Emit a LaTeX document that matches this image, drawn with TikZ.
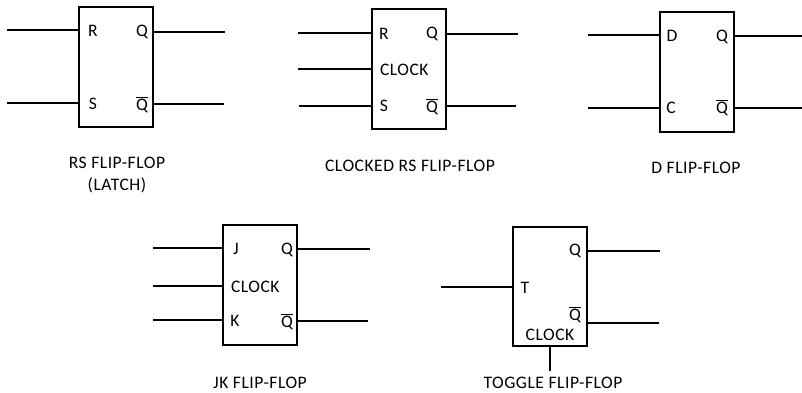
\documentclass[tikz,border=0pt]{standalone}
\usepackage{fontspec}
\setmainfont[LetterSpace=3]{Carlito}
\newcommand{\notq}{$\overline{\mbox{Q}}$}
\begin{document}
\begin{tikzpicture}[x=0.25mm, y=-0.25mm, line width=0.5mm, font=\fontsize{12.5}{15}\selectfont,
		ff/.style={draw, inner sep=0pt, minimum width=18.5mm, minimum height=29.8mm},
		pin/.style={inner sep=0pt},
		title/.style={inner sep=0pt, align=center, font=\fontsize{12.5}{15}\selectfont}]
	\useasboundingbox (0,0) rectangle (802,392);
	% latch
	\node[ff] (rs) at (116,67) {};
	\node[pin] (rsR) at (93,31) {R};
	\node[pin] (rsS) at (93,104) {S};
	\node[pin] (rsQ) at (142,32) {Q};
	\node[pin] (rsNQ) at (142,105) {\notq};
	\coordinate (rsRin) at (7,30);
	\coordinate (rsSin) at (7,103);
	\coordinate (rsQout) at (225,32);
	\coordinate (rsNQout) at (224,104);
	\draw (rsRin) -- (rsRin -| rs.west);
	\draw (rsSin) -- (rsSin -| rs.west);
	\draw (rs.east |- rsQout) -- (rsQout);
	\draw (rs.east |- rsNQout) -- (rsNQout);
	\node[title] (rstitle) at (117,175) {RS FLIP-FLOP\\(LATCH)};
	% clocked
	\node[ff] (crs) at (408.5,69) {};
	\node[pin] (crsR) at (384,34) {R};
	\node[pin, anchor=west] (crsC) at (379,70) {CLOCK};
	\node[pin] (crsS) at (384,106) {S};
	\node[pin] (crsQ) at (432,34) {Q};
	\node[pin] (crsNQ) at (432,107) {\notq};
	\coordinate (crsRin) at (298,33);
	\coordinate (crsCin) at (298,69);
	\coordinate (crsSin) at (299,106);
	\coordinate (crsQout) at (518,34);
	\coordinate (crsNQout) at (516,106);
	\draw (crsRin) -- (crsRin -| crs.west);
	\draw (crsCin) -- (crsCin -| crs.west);
	\draw (crsSin) -- (crsSin -| crs.west);
	\draw (crs.east |- crsQout) -- (crsQout);
	\draw (crs.east |- crsNQout) -- (crsNQout);
	\node[title] (crstitle) at (410,166) {CLOCKED RS FLIP-FLOP};
	% d
	\node[ff] (d) at (697,72) {};
	\node[pin] (dD) at (672,36) {D};
	\node[pin] (dC) at (671,108) {C};
	\node[pin] (dQ) at (722,37) {Q};
	\node[pin] (dNQ) at (722,108) {\notq};
	\coordinate (dDin) at (588,35);
	\coordinate (dCin) at (588,108);
	\coordinate (dQout) at (802,36);
	\coordinate (dNQout) at (802,108);
	\draw (dDin) -- (dDin -| d.west);
	\draw (dCin) -- (dCin -| d.west);
	\draw (d.east |- dQout) -- (dQout);
	\draw (d.east |- dNQout) -- (dNQout);
	\node[title] (dtitle) at (696,168) {D FLIP-FLOP};
	% jk
	\node[ff] (jk) at (260,285) {};
	\node[pin] (jkJ) at (236,249) {J};
	\node[pin, anchor=west] (jkC) at (230,287) {CLOCK};
	\node[pin] (jkK) at (235,321) {K};
	\node[pin] (jkQ) at (287,250) {Q};
	\node[pin] (jkNQ) at (287,322) {\notq};
	\coordinate (jkJin) at (153,248);
	\coordinate (jkCin) at (153,286);
	\coordinate (jkKin) at (153,320);
	\coordinate (jkQout) at (370,249);
	\coordinate (jkNQout) at (368,321);
	\draw (jkJin) -- (jkJin -| jk.west);
	\draw (jkCin) -- (jkCin -| jk.west);
	\draw (jkKin) -- (jkKin -| jk.west);
	\draw (jk.east |- jkQout) -- (jkQout);
	\draw (jk.east |- jkNQout) -- (jkNQout);
	\node[title] (jktitle) at (260,383) {JK FLIP-FLOP};
	% toggle
	\node[ff] (tg) at (550,286.5) {};
	\node[pin] (tgT) at (525,288) {T};
	\node[pin] (tgQ) at (575,251) {Q};
	\node[pin] (tgNQ) at (575,315) {\notq};
	\node[pin] (tgC) at (550,335) {CLOCK};
	\coordinate (tgTin) at (441,287);
	\coordinate (tgQout) at (660,251);
	\coordinate (tgNQout) at (659,323);
	\coordinate (tgCin) at (550,371);
	\draw (tgTin) -- (tgTin -| tg.west);
	\draw (tg.east |- tgQout) -- (tgQout);
	\draw (tg.east |- tgNQout) -- (tgNQout);
	\draw (tg.south) -- (tgCin);
	\node[title] (tgtitle) at (553,383) {TOGGLE FLIP-FLOP};
\end{tikzpicture}
\end{document}
